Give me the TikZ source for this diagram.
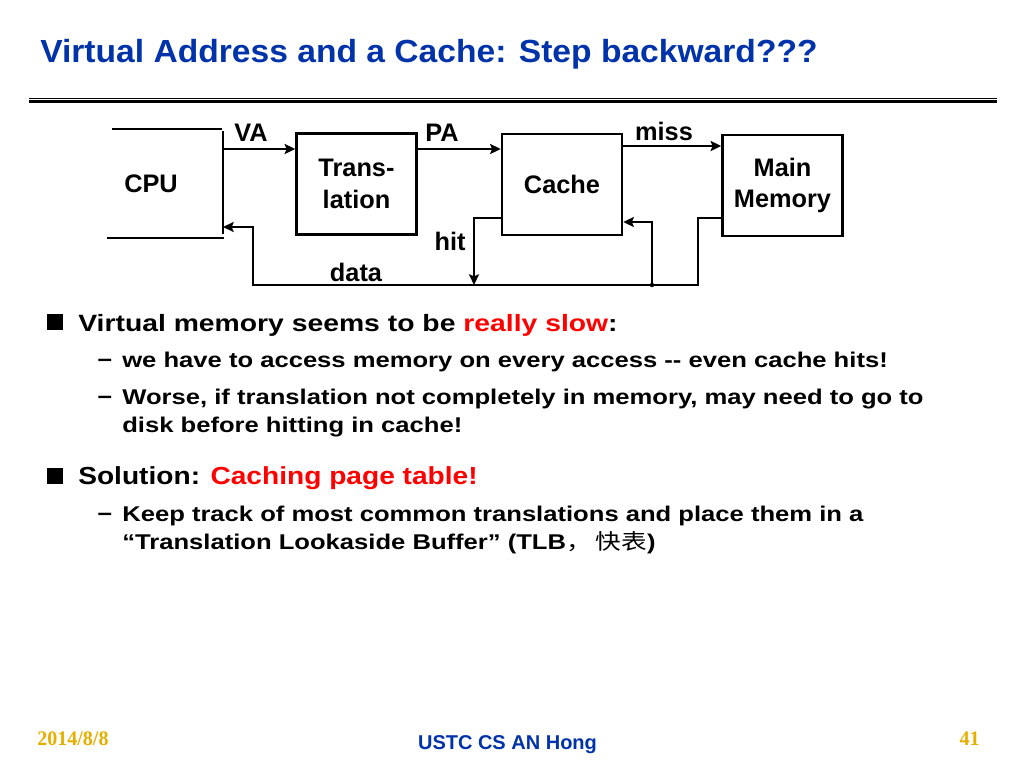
\documentclass[tikz,border=0pt]{standalone}
\usepackage{fontspec}
\setmainfont{Liberation Sans}
\newfontfamily\cjk{Noto Sans CJK SC}
\newfontfamily\timesf{Liberation Serif}
\usetikzlibrary{arrows.meta}
\definecolor{titleblue}{RGB}{0,51,170}
\definecolor{slred}{RGB}{255,0,0}
\definecolor{footyellow}{RGB}{230,175,0}
\begin{document}
\begin{tikzpicture}[x=0.75pt,y=-0.75pt,
  box/.style={draw,line width=1.8pt,minimum width=90pt,minimum height=75.75pt,inner sep=0pt,align=center,font=\bfseries\fontsize{19}{23.5}\selectfont},
  lbl/.style={font=\bfseries\fontsize{19}{23}\selectfont,inner sep=0pt},
  wire/.style={line width=1.8pt},
  arr/.style={line width=1.8pt,-{Stealth[length=8pt,width=7.5pt,inset=1.5pt]}},
  lvone/.style={anchor=base west,inner sep=0pt,font=\bfseries\fontsize{17.7}{21}\selectfont,xscale=1.2},
  lvtwo/.style={anchor=base west,inner sep=0pt,font=\bfseries\fontsize{16}{19}\selectfont,xscale=1.2},
  sq/.style={fill=black,minimum size=12pt,inner sep=0pt},
  dsh/.style={anchor=base west,inner sep=0pt,font=\bfseries\fontsize{16}{19}\selectfont,xscale=1.2}
]
\useasboundingbox (0,0) rectangle (1024,768);
\fill[white] (0,0) rectangle (1024,768);
% title
\node[anchor=base west,inner sep=0pt,text=titleblue,font=\bfseries\fontsize{24}{28}\selectfont,xscale=1.05] (title) at (40,62) {Virtual Address and a Cache: Step backward???};
\draw[line width=1pt] (29,98.3) -- (997,98.3);
\draw[line width=2.25pt] (29,101.5) -- (997,101.5);
% diagram
\node[lbl] (cpu) at (151,184) {CPU};
\draw[wire] (112,129) -- (222,129);
\draw[wire] (223,131) -- (223,234);
\draw[wire] (107,238) -- (224,238);
\coordinate (cpuva) at (223,149);
\coordinate (cpudata) at (223,227);
\node[box] (trans) at (356.5,184) {Trans-\\lation};
\node[box] (cache) at (562,184.5) {Cache};
\node[box] (mem) at (782.5,185.5) {Main\\Memory};
\coordinate (missy) at (0,146);
\coordinate (hity) at (0,218);
\coordinate (filly) at (0,222);
\coordinate (hitc) at (474,218);
\coordinate (hitend) at (474,285);
\coordinate (busr) at (698,285);
\coordinate (busl) at (253,285);
\coordinate (junc) at (652,285);
\draw[arr] (cpuva) -- (trans.west |- cpuva);
\draw[arr] (trans.east |- cpuva) -- (cache.west |- cpuva);
\draw[arr] (cache.east |- missy) -- (mem.west |- missy);
\draw[arr] (cache.west |- hity) -- (hitc) -- (hitend);
\draw[arr] (mem.west |- hity) -| (busr) -- (busl) |- (cpudata);
\draw[arr] (junc) |- (cache.east |- filly);
\fill (junc) circle (2.2);
\node[lbl] (va) at (251,133) {VA};
\node[lbl] (pa) at (442,133) {PA};
\node[lbl] (miss) at (664,131) {miss};
\node[lbl] (hit) at (450,241) {hit};
\node[lbl] (data) at (356,272) {data};
% bullets
\node[sq] (sq1) at (55,322) {};
\node[lvone] (b1) at (78,331) {Virtual memory seems to be \textcolor{slred}{really slow}:};
\node[dsh] (d1) at (97,367) {\textminus};
\node[lvtwo] (s1) at (122,367) {we have to access memory on every access -{}- even cache hits!};
\node[dsh] (d2) at (97,404) {\textminus};
\node[lvtwo] (s2a) at (122,404) {Worse, if translation not completely in memory, may need to go to};
\node[lvtwo] (s2b) at (122,432) {disk before hitting in cache!};
\node[sq] (sq2) at (55,475.5) {};
\node[anchor=base west,inner sep=0pt,font=\bfseries\fontsize{18.5}{22}\selectfont,xscale=1.14] (b2) at (78,484) {Solution: \textcolor{slred}{Caching page table!}};
\node[dsh] (d3) at (97,521) {\textminus};
\node[lvtwo] (s3a) at (122,521) {Keep track of most common translations and place them in a};
\node[lvtwo] (s3b) at (122,549) {“Translation Lookaside Buffer” (TLB{\cjk\mdseries ，}\,{\cjk\mdseries 快表})};
% footer
\node[anchor=base west,inner sep=0pt,text=footyellow,font=\timesf\bfseries\fontsize{15.5}{18}\selectfont,xscale=0.97] (date) at (37,745) {2014/8/8};
\node[anchor=base,inner sep=0pt,text=titleblue,font=\bfseries\fontsize{15}{18}\selectfont] (foot) at (507.5,749) {USTC CS AN Hong};
\node[anchor=base east,inner sep=0pt,text=footyellow,font=\timesf\bfseries\fontsize{15.5}{18}\selectfont,xscale=0.97] (pg) at (980,745) {41};
\end{tikzpicture}
\end{document}
